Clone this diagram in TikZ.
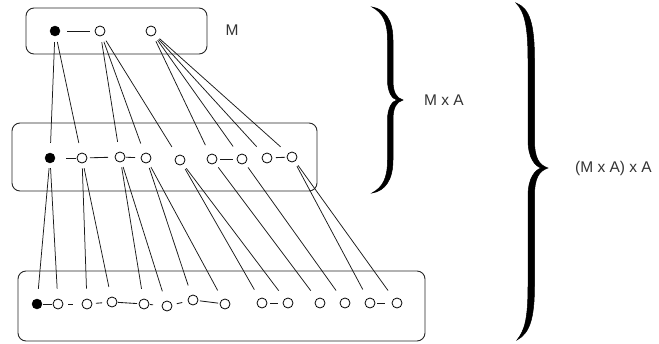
\documentclass[tikz,border=0pt]{standalone}
\usepackage{fontspec}
\setmainfont{Liberation Sans}
\begin{document}
\begin{tikzpicture}[x=1pt,y=-1pt,
  op/.style={circle,draw=black,line width=0.8pt,inner sep=0pt,minimum size=10pt,fill=white},
  fl/.style={circle,draw=black,fill=black,inner sep=0pt,minimum size=10pt},
  grp/.style={draw=black!85,line width=0.9pt,rounded corners=8pt},
  conn/.style={draw=black!90,line width=0.75pt,shorten <=6pt,shorten >=10pt},
  link/.style={draw=black!90,line width=0.85pt},
  lbl/.style={font=\fontsize{15.5}{18}\selectfont,text=black!80,inner sep=0pt},
  brace/.style={fill=black,draw=black,line width=0.5pt}]
\useasboundingbox (0,0) rectangle (659,343);
\newcommand\lnk[4]{\draw[link,shorten <=#3pt,shorten >=#4pt] (#1.center) -- (#2.center);}
% boxes
\node[grp,minimum width=181pt,minimum height=46pt] (boxT) at (116.5,31) {};
\node[grp,minimum width=305pt,minimum height=68pt] (boxM) at (164.5,157) {};
\node[grp,minimum width=407pt,minimum height=70pt] (boxB) at (221.5,306) {};
% top row
\node[fl] (t1) at (55,31) {};
\node[op] (t2) at (100,31) {};
\node[op] (t3) at (151,31) {};
% middle row
\node[fl] (m1) at (50,158) {};
\node[op] (m2) at (82,158) {};
\node[op] (m3) at (120,157) {};
\node[op] (m4) at (146,158) {};
\node[op] (m5) at (180,160) {};
\node[op] (m6) at (212,159) {};
\node[op] (m7) at (242,159) {};
\node[op] (m8) at (267,158) {};
\node[op] (m9) at (292,157) {};
% bottom row
\node[fl] (b1) at (37,304) {};
\node[op] (b2) at (58,304) {};
\node[op] (b3) at (87,304) {};
\node[op] (b4) at (112,302) {};
\node[op] (b5) at (144,304) {};
\node[op] (b6) at (167,306) {};
\node[op] (b7) at (193,300) {};
\node[op] (b8) at (225,304) {};
\node[op] (b9) at (262,303) {};
\node[op] (b10) at (288,303) {};
\node[op] (b11) at (320,303) {};
\node[op] (b12) at (345,303) {};
\node[op] (b13) at (370,303) {};
\node[op] (b14) at (397,303) {};
% links within rows
\lnk{t1}{t2}{12}{10}
\lnk{m1}{m2}{16}{6}
\lnk{m2}{m3}{8}{12}
\lnk{m3}{m4}{6}{11}
\lnk{m6}{m7}{8}{9}
\lnk{m8}{m9}{9}{7}
\lnk{b1}{b2}{6}{6}
\lnk{b2}{b3}{10}{14}
\lnk{b3}{b4}{9}{10}
\lnk{b4}{b5}{6}{7}
\lnk{b5}{b6}{6}{14}
\lnk{b6}{b7}{10}{11}
\lnk{b7}{b8}{7}{7}
\lnk{b9}{b10}{8}{10}
\lnk{b13}{b14}{7}{12}
% connectors top -> middle
\foreach \a/\b in {t1/m1,t1/m2,t2/m3,t2/m4,t2/m5,t3/m6,t3/m7,t3/m8,t3/m9}
  \draw[conn] (\a) -- (\b);
% connectors middle -> bottom
\foreach \a/\b in {m1/b1,m1/b2,m2/b3,m2/b4,m3/b5,m3/b6,m4/b7,m4/b8,m5/b9,m5/b10,m6/b11,m7/b12,m9/b13,m9/b14}
  \draw[conn,shorten <=5pt] (\a) -- (\b);
% labels
\node[lbl] (lM) at (232,30) {M};
\node[lbl,anchor=west] (lMA) at (424,100) {M x A};
\node[lbl,anchor=west] (lMAA) at (575,168) {(M x A) x A};
% brace 1
\path[brace] (372,7) .. controls (385,9) and (393,20) .. (393,40) -- (393,80)
  .. controls (393,92) and (396,98) .. (403,100)
  .. controls (396,102) and (393,108) .. (393,120) -- (393,160)
  .. controls (393,180) and (385,191) .. (372,193)
  .. controls (383,187) and (387.5,178) .. (387.5,160) -- (387.5,120)
  .. controls (387.5,108) and (392,101) .. (397,100)
  .. controls (392,99) and (387.5,92) .. (387.5,80) -- (387.5,40)
  .. controls (387.5,22) and (383,13) .. (372,7) -- cycle;
% brace 2
\path[brace] (516,3) .. controls (530,8) and (534.5,25) .. (534.5,60) -- (534.5,140)
  .. controls (534.5,158) and (539,165) .. (548,168)
  .. controls (539,171) and (534.5,178) .. (534.5,196) -- (534.5,285)
  .. controls (534.5,318) and (530,333) .. (517,340)
  .. controls (525,330) and (528,318) .. (528,285) -- (528,196)
  .. controls (528,178) and (535,170) .. (541,168)
  .. controls (535,166) and (528,158) .. (528,140) -- (528,60)
  .. controls (528,28) and (525,12) .. (516,3) -- cycle;
\end{tikzpicture}
\end{document}
